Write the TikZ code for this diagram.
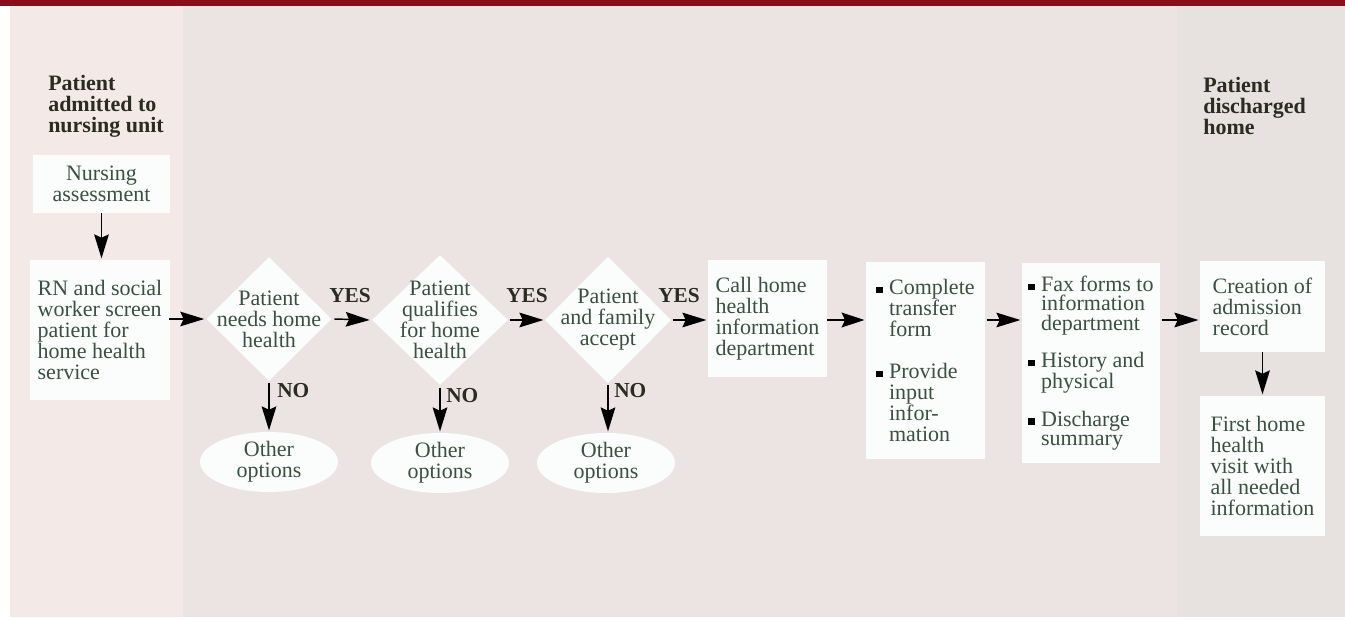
\documentclass[tikz,border=0pt]{standalone}
\usepackage{fontspec}
\setmainfont{Liberation Serif}
\usetikzlibrary{shapes.geometric,arrows.meta}
\definecolor{txtc}{HTML}{3A5040}
\definecolor{titc}{HTML}{2A2C22}
\definecolor{boxw}{HTML}{FAFDFB}
\definecolor{panelL}{HTML}{F3E9E7}
\definecolor{panelM}{HTML}{ECE4E2}
\definecolor{panelR}{HTML}{E7E1DF}
\definecolor{redbar}{HTML}{8A0E1A}
\newcommand{\bulsq}{\makebox[9.5pt][l]{\raisebox{1pt}{\textcolor{black}{\rule{4.8pt}{4.8pt}}}}}
\newcommand{\indsp}{\hspace*{9.5pt}}
\begin{document}
\begin{tikzpicture}[x=0.75pt,y=-0.75pt,
  every node/.style={inner sep=0pt, text=txtc},
  bodyfont/.style={font=\fontsize{16.5}{15.75}\selectfont},
  box/.style={rectangle, fill=boxw, bodyfont, align=left},
  dia/.style={diamond, fill=boxw},
  diatext/.style={bodyfont, align=center},
  oval/.style={ellipse, fill=boxw, bodyfont, align=center},
  title/.style={font=\fontsize{16.5}{15.75}\selectfont\bfseries, text=titc, align=left},
  lab/.style={font=\fontsize{16}{16}\selectfont\bfseries, text=titc},
  arr/.style={draw=black, line width=1.1pt, -{Stealth[length=18pt,width=11pt,inset=2.5pt]}},
  tarr/.style={draw=black, line width=2.2pt, -{Stealth[length=17pt,width=11pt,inset=2.5pt]}}
]
\useasboundingbox (0,0) rectangle (1345,620);
\fill[white] (0,0) rectangle (1345,620);
\fill[panelL] (10,6) rectangle (183,617);
\fill[panelM] (183,6) rectangle (1177,617);
\fill[panelR] (1177,6) rectangle (1345,617);
\fill[redbar] (0,0) rectangle (1345,6);

% titles
\node[title, anchor=north west] (t1) at (48,75) {Patient\\admitted to\\nursing unit};
\node[title, anchor=north west] (t2) at (1203,77) {Patient\\discharged\\home};

% boxes
\node[box, align=center, minimum width=102.75pt, minimum height=43.5pt] (nurse) at (101.5,184) {Nursing\\assessment};
\node[box, minimum width=105pt, minimum height=105pt] (rn) at (100,330) {RN and social\\worker screen\\patient for\\home health\\service};

% decisions
\node[dia, minimum width=93.75pt, minimum height=93pt] (d1) at (269,319) {};
\node[diatext] (d1t) at (d1.center) {Patient\\needs home\\health};
\node[dia, minimum width=102pt, minimum height=97.5pt] (d2) at (440,320) {};
\node[diatext] (d2t) at (d2.center) {Patient\\qualifies\\for home\\health};
\node[dia, minimum width=94.5pt, minimum height=95pt] (d3) at (608,320) {};
\node[diatext] (d3t) at (d3.center) {Patient\\and family\\accept};

\node[box, minimum width=89.25pt, minimum height=87.75pt] (call) at (767.5,318.5) {Call home\\health\\information\\department};
\node[box, minimum width=89.25pt, minimum height=147.75pt] (comp) at (925.5,360.5) {\bulsq Complete\\\indsp transfer\\\indsp form\\[16pt]\bulsq Provide\\\indsp input\\\indsp infor-\\\indsp mation};
\node[box, minimum width=103.5pt, minimum height=150pt, font=\fontsize{16.5}{14.5}\selectfont] (fax) at (1091,363) {\bulsq Fax forms to\\\indsp information\\\indsp department\\[12pt]\bulsq History and\\\indsp physical\\[12pt]\bulsq Discharge\\\indsp summary};
\node[box, minimum width=93.75pt, minimum height=68.25pt] (crea) at (1262.5,306.5) {Creation of\\admission\\record};
\node[box, minimum width=93.75pt, minimum height=105pt] (first) at (1262.5,466) {First home\\health\\visit with\\all needed\\information};

% other options
\node[oval, minimum width=103.5pt, minimum height=45pt] (e1) at (269,462) {Other\\options};
\node[oval, minimum width=103.5pt, minimum height=45pt] (e2) at (440,463) {Other\\options};
\node[oval, minimum width=103.5pt, minimum height=45pt] (e3) at (606,463) {Other\\options};

% main flow arrows
\draw[arr] ([xshift=-1pt]rn.east |- d1.west) -- ([xshift=-1.5pt]d1.west);
\draw[arr] ([xshift=2pt]d1.east) -- ([xshift=-1.5pt]d2.west);
\draw[arr] ([xshift=1pt]d2.east) -- ([xshift=-1pt]d3.west);
\draw[arr] ([xshift=1pt]d3.east) -- ([xshift=-1pt]d3.east -| call.west);
\draw[tarr] (call.east |- d3.east) -- ([xshift=-1pt]d3.east -| comp.west);
\draw[arr] ([xshift=1pt]comp.east |- d3.east) -- ([xshift=-1pt]fax.west |- d3.east);
\draw[arr] ([xshift=1pt]fax.east |- d3.east) -- ([xshift=-1pt]crea.west |- d3.east);
\draw[arr] (nurse.south) -- ([yshift=1pt]nurse.south |- rn.north);
\draw[arr] (crea.south) -- ([yshift=1pt]first.north);

% NO branches
\draw[arr] ([yshift=-1pt]d1.south) -- ([yshift=1pt]d1.south |- e1.north);
\draw[arr] ([yshift=-2pt]d2.south) -- ([yshift=1pt]d2.south |- e2.north);
\draw[arr] ([yshift=-1pt]d3.south) -- ([yshift=1pt]d3.south |- e3.north);

% labels
\node[lab] (y1) at (350,296) {YES};
\node[lab] (y2) at (527,296) {YES};
\node[lab] (y3) at (679,296) {YES};
\node[lab, anchor=west] (n1) at (277,391) {NO};
\node[lab, anchor=west] (n2) at (446,396) {NO};
\node[lab, anchor=west] (n3) at (614,391) {NO};
\end{tikzpicture}
\end{document}
